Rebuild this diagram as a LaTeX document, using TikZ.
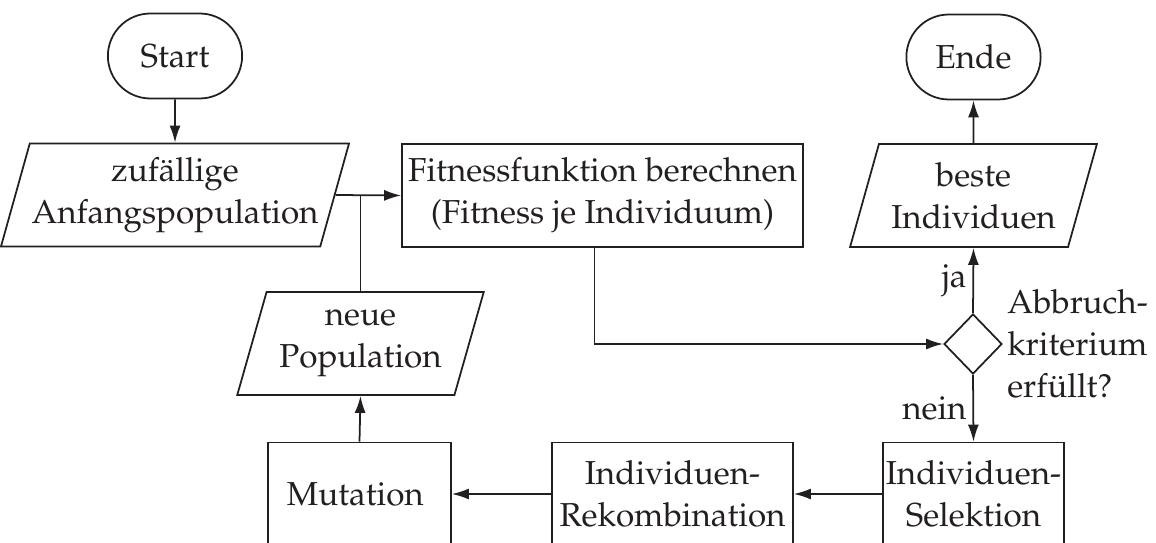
\documentclass[tikz,border=0pt]{standalone}
\usepackage[T1]{fontenc}
\usepackage{mathpazo}
\usepackage{tikz}
\usetikzlibrary{shapes.geometric, shapes.misc, arrows.meta}
\definecolor{ink}{RGB}{35, 31, 32}
\tikzset{
  terminal/.style={draw, rounded rectangle, minimum width=2.92cm, minimum height=1.7cm},
  inout/.style={draw, trapezium, trapezium left angle=70, trapezium right angle=110,
    trapezium stretches=true, minimum height=2.06cm, align=center, inner sep=1pt},
  process/.style={draw, rectangle, minimum height=2.06cm, align=center, inner sep=1pt},
  decision/.style={draw, diamond, minimum width=1.16cm, minimum height=1.2cm, inner sep=0pt},
  flow/.style={-{Latex[length=3.4mm, width=2.2mm]}}
}

\begin{document}
\begin{tikzpicture}[x=0.02cm, y=-0.02cm, line width=1pt, color=ink,
    font=\fontsize{18.9}{24}\selectfont]
  \useasboundingbox (0, 0) rectangle (1156, 543);

  \node[terminal] (start) at (175, 56) { Start };
  \node[inout, minimum width=6.6cm] (init) at (175, 195) { zuf\"allige\\Anfangspopulation };
  \node[process, minimum width=8.02cm] (fit) at (602.5, 195.5) { Fitnessfunktion berechnen\\(Fitness je Individuum) };
  \node[inout, minimum width=4.94cm] (newpop) at (360.5, 343.5) { neue\\Population };

  \node[decision] (crit) at (973, 344) {};
  \node[anchor=west, align=left, inner sep=2pt] (critlabel) at (crit.east) { Abbruch-\\kriterium\\erf\"ullt? };
  \node[inout, minimum width=4.94cm] (best) at (973.5, 195.5) { beste\\Individuen };
  \node[terminal] (end) at (973.5, 57) { Ende };

  \node[process, minimum width=3.66cm] (mut) at (359.5, 494) { Mutation };
  \node[process, minimum width=4.82cm] (rek) at (672.5, 494) { Individuen-\\Rekombination };
  \node[process, minimum width=3.62cm] (sel) at (973.5, 494) { Individuen-\\Selektion };

  \coordinate (merge) at (newpop.north |- init.east);
  \coordinate (fitout) at ([xshift=-0.16cm]fit.south);

  \draw [flow] (start) -- (init);
  \draw [flow] (init.east) -- (fit.west);
  \draw (newpop.north) -- (merge);
  \draw [flow] (fitout) |- (crit.west);
  \draw [flow] (crit.north) -- node[left] (yes) { ja } (best.south);
  \draw [flow] (best.north) -- (end.south);
  \draw [flow] (crit.south) -- node[left] (no) { nein } (sel.north);
  \draw [flow] (sel.west) -- (rek.east);
  \draw [flow] (rek.west) -- (mut.east);
  \draw [flow] (mut.north) -- (newpop.south);

\end{tikzpicture}
\end{document}
